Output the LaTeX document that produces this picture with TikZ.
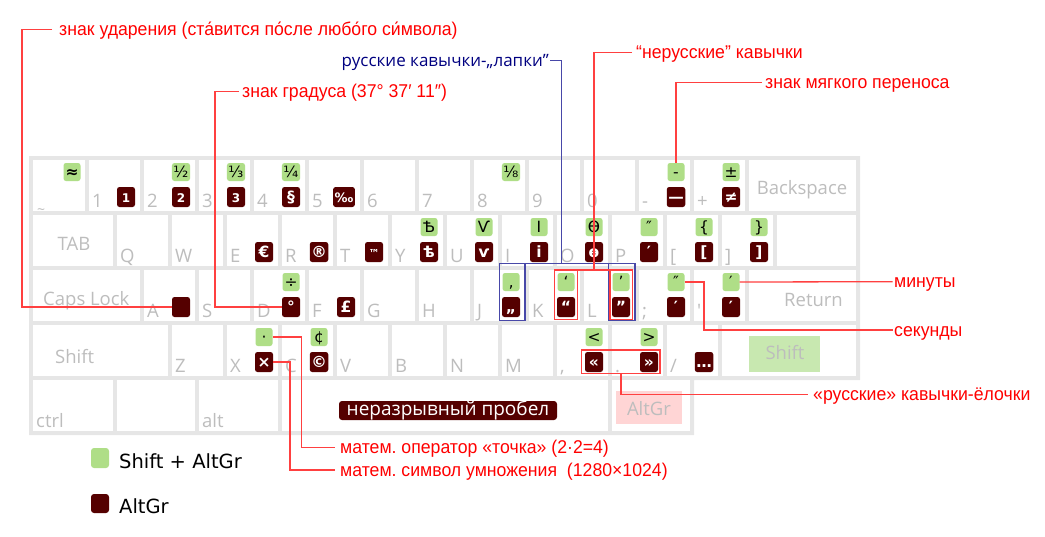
\documentclass[tikz,border=0pt]{standalone}
\usepackage{fontspec}
\setmainfont{Open Sans}
\newfontfamily\libf[FakeStretch=0.955]{Liberation Sans}
\newfontfamily\dvf{DejaVu Sans}
\usetikzlibrary{calc}
\definecolor{kgray}{HTML}{E6E6E6}
\definecolor{lgray}{HTML}{BDBDBD}
\definecolor{sgreen}{HTML}{AFDE87}
\definecolor{dred}{HTML}{550000}
\definecolor{hgreen}{HTML}{C8E8B0}
\definecolor{hpink}{HTML}{FFD5D5}
\definecolor{anred}{HTML}{FF0000}
\definecolor{lnred}{HTML}{FF4040}
\definecolor{annavy}{HTML}{000080}
\definecolor{lnblue}{HTML}{4848A8}
\newcommand\fsz[1]{\fontsize{#1}{#1}\selectfont}
\newcommand\Key[5]{\node[keyface,minimum width=#4pt] (#1) at (#2,#3) {};\node[klab] (#1-t) at ({#2+3},{#3+47}) {#5};}
\newcommand\Gs[4]{\node[gbox] (#1) at ({#2+37},{#3+12}) {#4};}
\newcommand\Ds[4]{\node[dbox] (#1) at ({#2+37},{#3+37}) {#4};}
\frenchspacing
\begin{document}
\begin{tikzpicture}[x=1pt,y=-1pt,
 keyface/.style={fill=white,inner sep=0pt,outer sep=0pt,anchor=north west,minimum height=51pt},
 klab/.style={text=lgray,font=\fsz{18.5},inner sep=0pt,anchor=base west},
 gbox/.style={fill=sgreen,rounded corners=2.5pt,inner sep=1.5pt,minimum width=17pt,minimum height=18pt,text height=12pt,text depth=0.5pt,font=\dvf\fsz{15.5}},
 dbox/.style={fill=dred,text=white,rounded corners=2.5pt,inner sep=1.5pt,minimum width=18pt,minimum height=20pt,text height=12pt,text depth=0.5pt,font=\dvf\bfseries\fsz{15.5}},
 note/.style={text=anred,font=\libf\fsz{18.5},inner sep=0pt,anchor=base west},
 lead/.style={draw=lnred,line width=1.3pt},
 blead/.style={draw=lnblue,line width=1.3pt},
 hlbox/.style={rectangle,inner sep=0pt,outer sep=0pt,anchor=north west},
]
\useasboundingbox (0,0) rectangle (1045,536);
% frame
\fill[kgray] (29,156) -- (860,156) -- (860,380) -- (694,380) -- (694,435) -- (29,435) -- cycle;
% row 1
\node[keyface,minimum width=52pt] (ktil) at (33,160) {};
\node[klab,font=\fsz{14}] (ktil-t) at (37,214) {\textasciitilde};
\Key{k1}{89}{160}{51}{1}
\Key{k2}{144}{160}{51}{2}
\Key{k3}{199}{160}{51}{3}
\Key{k4}{254}{160}{51}{4}
\Key{k5}{309}{160}{51}{5}
\Key{k6}{364}{160}{51}{6}
\Key{k7}{419}{160}{51}{7}
\Key{k8}{474}{160}{51}{8}
\Key{k9}{529}{160}{51}{9}
\Key{k0}{584}{160}{51}{0}
\Key{kmin}{639}{160}{51}{-}
\Key{kplus}{694}{160}{51}{+}
\node[keyface,minimum width=107pt] (kbs) at (749,160) {};
\node[klab,anchor=base] (kbs-t) at (802,194) {Backspace};
% row 2
\node[keyface,minimum width=80pt] (ktab) at (33,215) {};
\node[klab,anchor=base] (ktab-t) at (74,250) {TAB};
\Key{kq}{117}{215}{51}{Q}
\Key{kw}{172}{215}{51}{W}
\Key{ke}{227}{215}{51}{E}
\Key{kr}{282}{215}{51}{R}
\Key{kt}{337}{215}{51}{T}
\Key{ky}{392}{215}{51}{Y}
\Key{ku}{447}{215}{51}{U}
\Key{ki}{502}{215}{51}{I}
\Key{ko}{557}{215}{51}{O}
\Key{kp}{612}{215}{51}{P}
\Key{klb}{667}{215}{51}{[}
\Key{krb}{722}{215}{51}{]}
\node[keyface,minimum width=79pt] (kret2) at (777,215) {};
% row 3
\node[keyface,minimum width=107pt] (kcaps) at (33,270) {};
\node[klab] (kcaps-t) at (43,305) {Caps Lock};
\Key{ka}{144}{270}{51}{A}
\Key{ks}{199}{270}{51}{S}
\Key{kd}{254}{270}{51}{D}
\Key{kf}{309}{270}{51}{F}
\Key{kg}{364}{270}{51}{G}
\Key{kh}{419}{270}{51}{H}
\Key{kj}{474}{270}{51}{J}
\Key{kk}{529}{270}{51}{K}
\Key{kl}{584}{270}{51}{L}
\Key{ksemi}{639}{270}{51}{;}
\Key{kquo}{694}{270}{51}{\textquotesingle}
\node[keyface,minimum width=107pt] (kret) at (749,270) {};
\node[klab] (kret-t) at (784,306) {Return};
% row 4
\node[keyface,minimum width=135pt] (klsh) at (33,325) {};
\node[klab] (klsh-t) at (55,363) {Shift};
\Key{kz}{172}{325}{51}{Z}
\Key{kx}{227}{325}{51}{X}
\Key{kc}{282}{325}{51}{C}
\Key{kv}{337}{325}{51}{V}
\Key{kb}{392}{325}{51}{B}
\Key{kn}{447}{325}{51}{N}
\Key{km}{502}{325}{51}{M}
\Key{kcom}{557}{325}{51}{,}
\Key{kdot}{612}{325}{51}{.}
\Key{ksl}{667}{325}{51}{/}
\node[keyface,minimum width=134pt] (krsh) at (722,325) {};
\node[hlbox,fill=hgreen,minimum width=71pt,minimum height=36pt] (krsh-h) at (749,336) {};
\node[klab,anchor=base] (krsh-t) at (785,359) {Shift};
% row 5
\Key{kctrl}{33}{380}{80}{ctrl}
\node[keyface,minimum width=78pt] (kwin) at (117,380) {};
\Key{kalt}{199}{380}{79}{alt}
\node[keyface,minimum width=326pt] (kspace) at (282,380) {};
\node[keyface,minimum width=78pt] (kagr) at (612,380) {};
\node[hlbox,fill=hpink,minimum width=66pt,minimum height=33pt] (kagr-h) at (616,391) {};
\node[klab,anchor=base] (kagr-t) at (649,415) {AltGr};
\node[fill=dred,text=white,rounded corners=3pt,minimum width=218pt,minimum height=19pt,inner sep=0pt,text height=12pt,text depth=1.6pt,font=\fsz{19}] (nbsp) at (448,410.5) {неразрывный пробел};
% symbols row 1
\node[gbox,font=\dvf\bfseries\fsz{15.5}] (g-til) at (72,172) {≈};
\Gs{g-2}{144}{160}{½}
\Gs{g-3}{199}{160}{⅓}
\Gs{g-4}{254}{160}{¼}
\Gs{g-8}{474}{160}{⅛}
\Gs{g-min}{639}{160}{-}
\Gs{g-plus}{694}{160}{±}
\node[dbox,font=\dvf\bfseries\fsz{12}] (d-1) at (126,197) {1};
\node[dbox,font=\dvf\bfseries\fsz{12}] (d-2) at (181,197) {2};
\node[dbox,font=\dvf\bfseries\fsz{12}] (d-3) at (236,197) {3};
\Ds{d-4}{254}{160}{§}
\node[dbox,font=\dvf\bfseries\fsz{13}] (d-5) at (344,197) {‰};
\Ds{d-min}{639}{160}{—}
\Ds{d-plus}{694}{160}{≠}
% row 2
\Gs{g-y}{392}{215}{Ѣ}
\Gs{g-u}{447}{215}{Ѵ}
\Gs{g-i}{502}{215}{І}
\Gs{g-o}{557}{215}{Ѳ}
\Gs{g-p}{612}{215}{″}
\Gs{g-lb}{667}{215}{\{}
\Gs{g-rb}{722}{215}{\}}
\Ds{d-e}{227}{215}{€}
\Ds{d-r}{282}{215}{®}
\node[dbox,font=\dvf\bfseries\fsz{11}] (d-t) at (374,252) {™};
\Ds{d-y}{392}{215}{ѣ}
\Ds{d-u}{447}{215}{ѵ}
\Ds{d-i}{502}{215}{і}
\Ds{d-o}{557}{215}{ѳ}
\Ds{d-p}{612}{215}{′}
\Ds{d-lb}{667}{215}{[}
\Ds{d-rb}{722}{215}{]}
% row 3
\Gs{g-d}{254}{270}{÷}
\Gs{g-j}{474}{270}{‚}
\Gs{g-k}{529}{270}{‘}
\Gs{g-l}{584}{270}{’}
\Gs{g-semi}{639}{270}{″}
\Gs{g-quo}{694}{270}{′}
\Ds{d-a}{144}{270}{\phantom{.}}
\Ds{d-d}{254}{270}{°}
\Ds{d-f}{309}{270}{£}
\Ds{d-j}{474}{270}{„}
\Ds{d-k}{529}{270}{“}
\Ds{d-l}{584}{270}{”}
\Ds{d-semi}{639}{270}{′}
\Ds{d-quo}{694}{270}{′}
% row 4
\Gs{g-x}{227}{325}{·}
\Gs{g-c}{282}{325}{¢}
\Gs{g-com}{557}{325}{<}
\Gs{g-dot}{612}{325}{>}
\Ds{d-x}{227}{325}{×}
\Ds{d-c}{282}{325}{©}
\Ds{d-com}{557}{325}{«}
\Ds{d-dot}{612}{325}{»}
\Ds{d-sl}{667}{325}{…}
% marker boxes
\node[hlbox,blead,minimum width=25.7pt,minimum height=57.4pt] (bb1) at (499.3,263.3) {};
\node[hlbox,blead,minimum width=26.7pt,minimum height=57.4pt] (bb2) at (608.3,263.3) {};
\node[hlbox,lead,minimum width=23.4pt,minimum height=49.3pt] (rb1) at (554.3,270) {};
\node[hlbox,lead,minimum width=22.3pt,minimum height=49.3pt] (rb2) at (610,270) {};
\node[hlbox,lead,minimum width=78.3pt,minimum height=23.3pt] (rb3) at (581.7,350) {};
% notes
\node[note] (n-stress) at (59,35.3) {знак ударения (ста́вится по́сле любо́го си́мвола)};
\node[note] (n-deg) at (242,97.5) {знак градуса (37° 37′ 11″)};
\node[text=annavy,font=\fsz{17},inner sep=0pt,anchor=base east] (n-lapki) at (549,66.7) {русские кавычки-„лапки”};
\node[note] (n-nerus) at (636,58.7) {“нерусские” кавычки};
\node[note] (n-soft) at (765,88.3) {знак мягкого переноса};
\node[note] (n-min) at (894,287.7) {минуты};
\node[note] (n-sec) at (894,336) {секунды};
\node[note] (n-elo) at (813,400.3) {«русские» кавычки-ёлочки};
\node[note] (n-dot) at (340,453.7) {матем. оператор «точка» (2·2=4)};
\node[note] (n-mul) at (340,476) {матем. символ умножения~ (1280×1024)};
% leader coordinates
\coordinate (c-stress) at (52,29.3);
\coordinate (c-stress2) at (22,29.3);
\coordinate (c-deg) at (239,91.7);
\coordinate (c-deg2) at (215,91.7);
\coordinate (c-lapki) at (550,60.7);
\coordinate (c-lapki2) at (561.7,263.3);
\coordinate (c-nerus) at (632,52.7);
\coordinate (c-nerus2) at (594,52.7);
\coordinate (c-nerus3) at (594,270);
\coordinate (c-soft) at (762,82.3);
\coordinate (c-min) at (892.5,281.7);
\coordinate (c-sec) at (704,282);
\coordinate (c-sec2) at (892.5,330);
\coordinate (c-elo) at (808,394.3);
\coordinate (c-dot) at (301.7,337);
\coordinate (c-dot2) at (335,447.7);
\coordinate (c-mul) at (290,362);
\coordinate (c-mul2) at (335,470);
% leaders
\draw[lead] (c-stress) -- (c-stress2) |- (d-a.west);
\draw[lead] (c-deg) -- (c-deg2) |- (d-d.west);
\draw[blead] (c-lapki) -| (c-lapki2);
\draw[blead] (bb1.north east) -- (bb2.north west);
\draw[lead] (c-nerus) -- (c-nerus2) -- (c-nerus3);
\draw[lead] (rb1.north east) -- (rb2.north west);
\draw[lead] (c-soft) -| (g-min.north);
\draw[lead] (g-quo.east) -- (c-min);
\draw[lead] (g-semi.east) -- (c-sec) |- (c-sec2);
\draw[lead] (rb3.south) |- (c-elo);
\draw[lead] (g-x.east) -- (c-dot) |- (c-dot2);
\draw[lead] (d-x.east) -- (c-mul) |- (c-mul2);
% legend
\node[fill=sgreen,rounded corners=3pt,minimum width=18pt,minimum height=20pt,inner sep=0pt] (lg-g) at (100,458) {};
\node[font=\dvf\fsz{19.5},inner sep=0pt,anchor=base west] (lg-gt) at (119,468) {Shift + AltGr};
\node[fill=dred,rounded corners=3pt,minimum width=18pt,minimum height=19pt,inner sep=0pt] (lg-d) at (100,503.5) {};
\node[font=\dvf\fsz{19.5},inner sep=0pt,anchor=base west] (lg-dt) at (119,513) {AltGr};
\end{tikzpicture}
\end{document}
